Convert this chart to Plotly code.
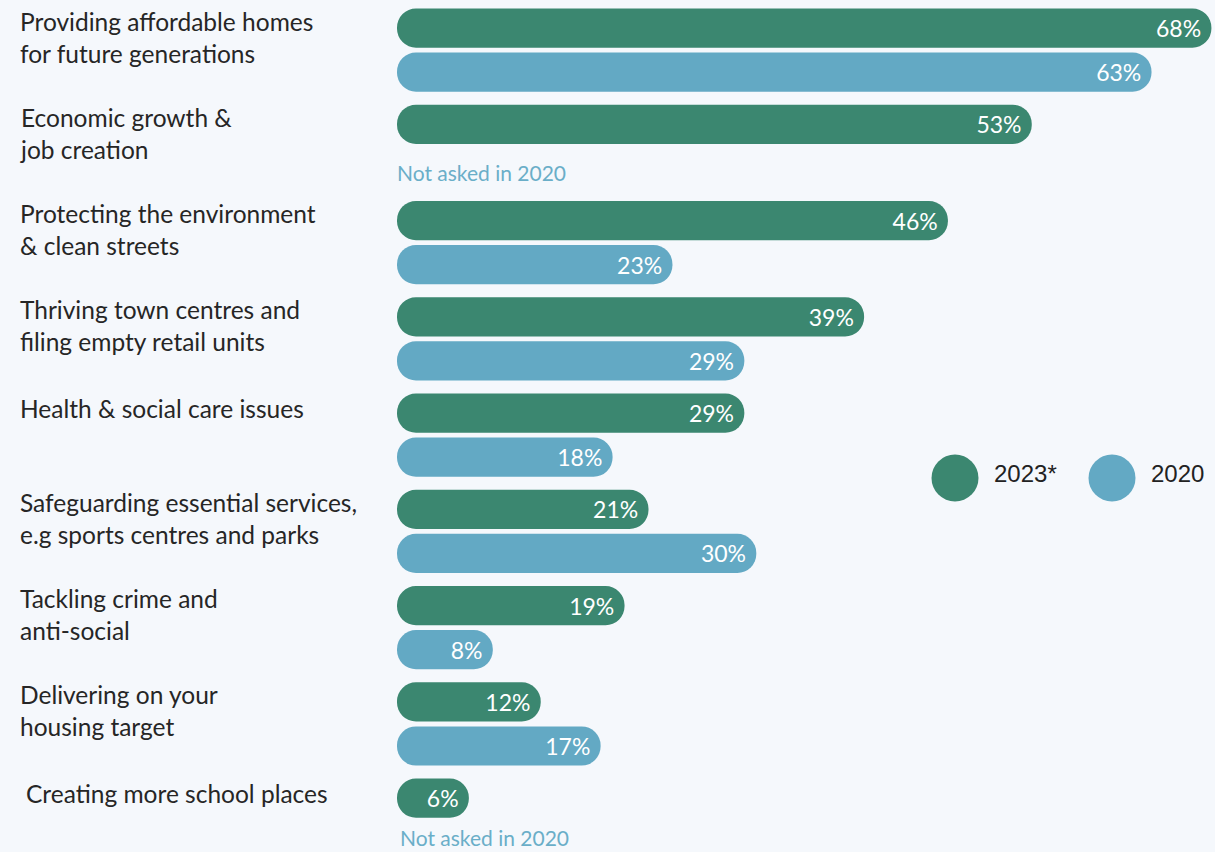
import plotly.graph_objects as go

categories = [
    "Providing affordable homes<br>for future generations",
    "Economic growth &<br>job creation",
    "Protecting the environment<br>& clean streets",
    "Thriving town centres and<br>filing empty retail units",
    "Health & social care issues",
    "Safeguarding essential services,<br>e.g sports centres and parks",
    "Tackling crime and<br>anti-social",
    "Delivering on your<br>housing target",
    "Creating more school places",
]
values_2023 = [68, 53, 46, 39, 29, 21, 19, 12, 6]
values_2020 = [63, None, 23, 29, 18, 30, 8, 17, None]
series_names = ["2023*", "2020"]
not_asked_text = "Not asked in 2020"

GREEN = "#3b8770"
BLUE = "#63a9c4"
BG = "#f5f8fc"
LABEL_FONT = "Lato"

idx = list(range(len(categories)))

fig = go.Figure()

for vals, color, grp in [(values_2023, GREEN, "a"), (values_2020, BLUE, "b")]:
    fig.add_trace(go.Bar(
        y=idx, x=vals, base=[0] * len(vals), orientation="h", offsetgroup=grp,
        marker=dict(color=color, line=dict(width=0)), showlegend=False,
        text=[f"{v}%" if v is not None else "" for v in vals],
        textposition="inside", insidetextanchor="end", constraintext="none",
        textfont=dict(family=LABEL_FONT, size=23, color="white"),
        hovertemplate="%{x}%<extra></extra>",
    ))

annotations = []
for i, cat in enumerate(categories):
    single = "<br>" not in cat
    annotations.append(dict(
        xref="paper", yref="y", x=0, y=i,
        xshift=-379 + (6 if i == len(categories) - 1 else 0),
        yshift=(27 if single else 13),
        xanchor="left", yanchor="middle", align="left", showarrow=False,
        text=cat, font=dict(family=LABEL_FONT, size=24.5, color="#262626"),
    ))

last = len(categories) - 1
for i, v in enumerate(values_2020):
    if v is None:
        annotations.append(dict(
            xref="x", yref="y", x=0, y=i, yshift=(-17 if i == last else -26),
            xshift=(1 if i == last else -2),
            xanchor="left", yanchor="middle", showarrow=False,
            text=not_asked_text, font=dict(family=LABEL_FONT, size=21, color="#6aaec8"),
        ))

# custom legend (large circles)
legend_x = [955, 1112]
legend_y = [478, 478]
fig.add_trace(go.Scatter(
    x=legend_x, y=legend_y, xaxis="x2", yaxis="y2", mode="markers",
    marker=dict(size=47, color=[GREEN, BLUE], line=dict(width=0)),
    showlegend=False, hoverinfo="skip", cliponaxis=False,
))
for lx, ly, name in zip(legend_x, legend_y, series_names):
    annotations.append(dict(
        xref="x2", yref="y2", x=lx + 37, y=ly - 5, xanchor="left", yanchor="middle",
        showarrow=False, text=name,
        font=dict(family="Liberation Sans", size=24, color="#222222"),
    ))

fig.update_layout(
    width=1215, height=852,
    margin=dict(l=397, r=0, t=0, b=0),
    paper_bgcolor=BG, plot_bgcolor=BG,
    barmode="group", bargap=0.085, bargroupgap=0.11,
    barcornerradius="50%",
    showlegend=False,
    xaxis=dict(range=[0, 68.3], visible=False, fixedrange=True),
    yaxis=dict(range=[8.33, -0.52], visible=False, fixedrange=True),
    xaxis2=dict(range=[397, 1215], overlaying="x", visible=False, fixedrange=True),
    yaxis2=dict(range=[852, 0], overlaying="y", visible=False, fixedrange=True),
    annotations=annotations,
)

fig.write_html(
    "out.html",
    config={"displayModeBar": False},
    post_script="document.body.style.margin='0px';document.body.style.background='#f5f8fc';",
)
